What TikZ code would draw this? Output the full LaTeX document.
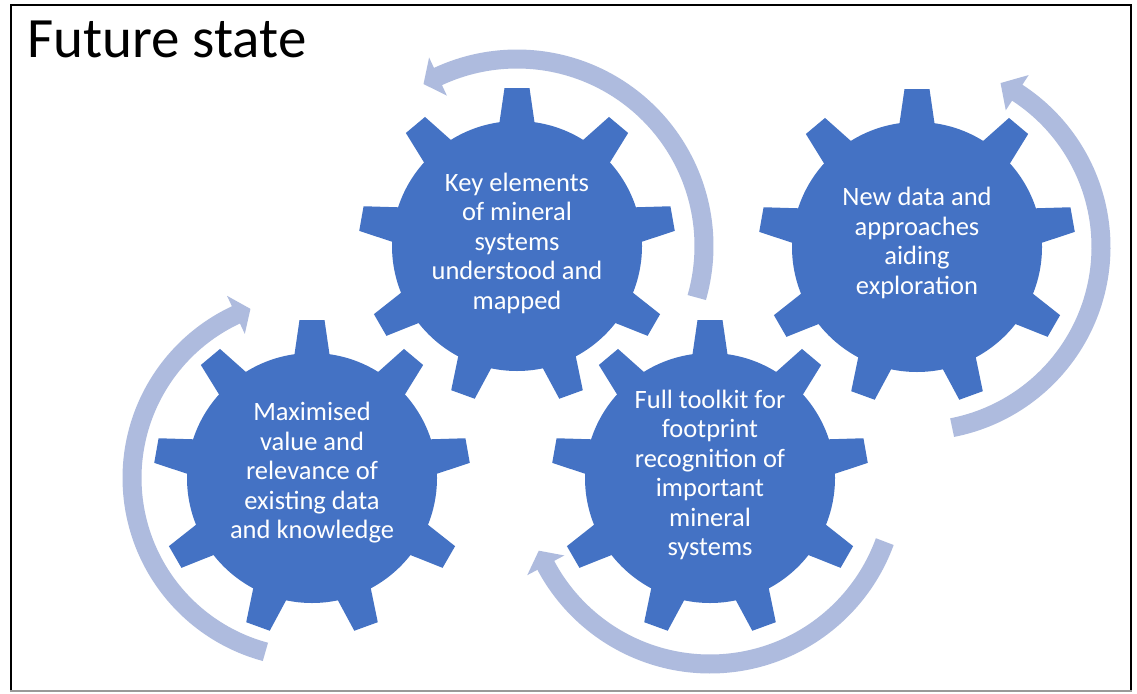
\documentclass[tikz,border=0pt]{standalone}
\usepackage{fontspec}
\setmainfont{Carlito}
\definecolor{gearblue}{RGB}{68,114,196}
\definecolor{arrowcol}{RGB}{174,187,222}
\newcommand\drawgear[2]{%
  \fill[gearblue] (#1,#2) circle[radius=125pt];
  \foreach \a in {90,130,...,410} {
    \fill[gearblue, shift={(#1,#2)}, rotate=\a]
      (110,-19.5) -- (158,-12.5) -- (158,12.5) -- (110,19.5) -- cycle;
  }
}
% #1 cx, #2 cy, #3 r, #4 tail angle, #5 head base angle, #6 tip angle, #7 lower, #8 upper (band domain)
\newcommand\circarrow[8]{%
  \draw[arrowcol, line width=19pt] plot[domain=#7:#8, samples=90]
    ({#1+#3*cos(\x)}, {#2+#3*sin(\x)});
  \fill[arrowcol] ({#1+(#3+21)*cos(#5)}, {#2+(#3+21)*sin(#5)})
    -- ({#1+#3*cos(#6)}, {#2+#3*sin(#6)})
    -- ({#1+(#3-21)*cos(#5)}, {#2+(#3-21)*sin(#5)}) -- cycle;
}
\begin{document}
\begin{tikzpicture}[x=1pt,y=-1pt,
  geartext/.style={text=white, align=center, inner sep=0pt,
    font=\fontsize{26.5}{29.5}\selectfont},
  titletext/.style={anchor=base west, inner sep=0pt,
    font=\fontsize{57}{66}\selectfont}]
\useasboundingbox (0,0) rectangle (1137,693);
\fill[white] (0,0) rectangle (1137,693);
% frame
\draw[black, line width=1.8pt] (11,691) -- (11,5) -- (1131,5) -- (1131,691);
\draw[black!40, line width=2.5pt] (10,691) -- (1132,691);
% title
\node[titletext] (title) at (27,58) {Future state};
% arrows
\circarrow{312}{478}{180}{105}{245}{250}{105}{246}
\circarrow{517}{246}{187}{16}{-115}{-120}{-116}{16}
\circarrow{917}{247}{184}{79}{-57}{-63}{-58}{79}
\circarrow{710}{478}{186}{20}{152}{157}{20}{153}
% gears
\drawgear{312}{478}
\drawgear{517}{246}
\drawgear{917}{247}
\drawgear{710}{478}
% texts
\node[geartext] (t1) at (312,473) {Maximised\\value and\\relevance of\\existing data\\and knowledge};
\node[geartext] (t2) at (517,243) {Key elements\\of mineral\\systems\\understood and\\mapped};
\node[geartext] (t3) at (917,243) {New data and\\approaches\\aiding\\exploration};
\node[geartext] (t4) at (710,475) {Full toolkit for\\footprint\\recognition of\\important\\mineral\\systems};
\end{tikzpicture}
\end{document}
